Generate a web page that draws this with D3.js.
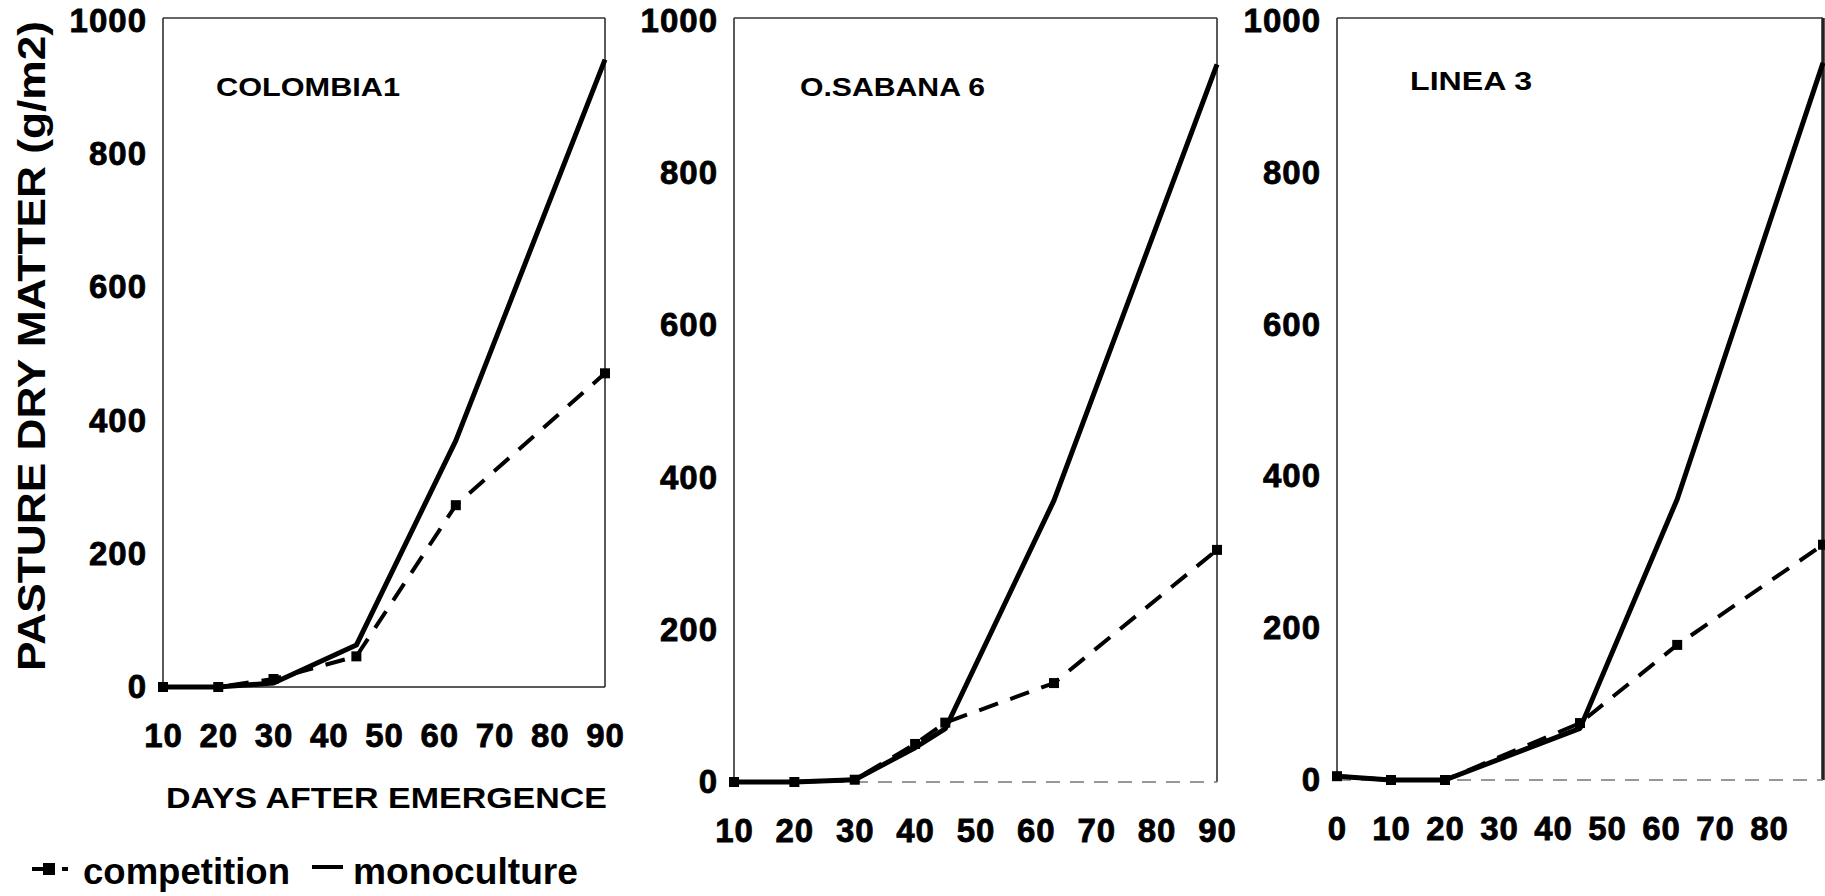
<!DOCTYPE html>
<html>
<head>
<meta charset="utf-8">
<script src="https://cdn.jsdelivr.net/npm/d3@7"></script>
<style>
  body { margin: 0; background: #fff; }
  svg { display: block; font-family: "Liberation Sans", Arial, sans-serif; }
  .tick text { font-weight: bold; font-size: 33px; fill: #000; stroke: #000; stroke-width: 0.8px; letter-spacing: 1px; }
</style>
</head>
<body>
<div id="chart"></div>
<script>
// panel titles
const panelNames = ["COLOMBIA1", "O.SABANA 6", "LINEA 3"];

// days after emergence for each panel
const days1 = [10, 20, 30, 45, 63, 90];
const days2 = [10, 20, 30, 40, 45, 63, 90];
const days3 = [0, 10, 20, 45, 63, 90];

// pasture dry matter (g/m2), monoculture
const mono1 = [0, 0, 6, 63, 370, 942];
const mono2 = [0, 0, 3, 45, 70, 370, 943];
const mono3 = [5, 0, 0, 68, 370, 945];

// pasture dry matter (g/m2), competition
const comp1 = [0, 0, 12, 46, 273, 471];
const comp2 = [0, 0, 3, 50, 78, 130, 305];
const comp3 = [5, 0, 0, 75, 178, 310];

// tick labels
const xTicks1 = [10, 20, 30, 40, 50, 60, 70, 80, 90];
const xTicks2 = [10, 20, 30, 40, 50, 60, 70, 80, 90];
const xTicks3 = [0, 10, 20, 30, 40, 50, 60, 70, 80];
const yTicks = [0, 200, 400, 600, 800, 1000];

const width = 1825, height = 896;

// where each panel sits on the page
const layout = [
  { xDomain: [10, 90], x0: 163, x1: 605, y0: 687, y1: 21, title: [216, 400, 87], base: "solid", right: 1.5 },
  { xDomain: [10, 90], x0: 734, x1: 1217, y0: 782, y1: 21, title: [800, 985, 87], base: "dotted", right: 1.5 },
  { xDomain: [0, 90], x0: 1337, x1: 1823, y0: 780, y1: 21, title: [1410, 1532, 81], base: "dotted", right: 3.5 }
];

const panels = [
  { days: days1, mono: mono1, comp: comp1, ticks: xTicks1 },
  { days: days2, mono: mono2, comp: comp2, ticks: xTicks2 },
  { days: days3, mono: mono3, comp: comp3, ticks: xTicks3 }
];

const svg = d3.select("#chart").append("svg")
  .attr("width", width)
  .attr("height", height);

panels.forEach((p, i) => {
  const L = layout[i];
  const x = d3.scaleLinear().domain(L.xDomain).range([L.x0, L.x1]);
  const y = d3.scaleLinear().domain([0, 1000]).range([L.y0, L.y1]);
  const g = svg.append("g");

  // frame
  const top = y(1000) - 3;
  g.append("line").attr("x1", L.x0).attr("x2", L.x0).attr("y1", top).attr("y2", L.y0)
    .attr("stroke", "#222").attr("stroke-width", 1.5);
  g.append("line").attr("x1", L.x1).attr("x2", L.x1).attr("y1", top).attr("y2", L.y0)
    .attr("stroke", "#222").attr("stroke-width", L.right);
  g.append("line").attr("x1", L.x0).attr("x2", L.x1).attr("y1", top).attr("y2", top)
    .attr("stroke", "#333").attr("stroke-width", 1.5);
  g.append("line").attr("x1", L.x0).attr("x2", L.x1).attr("y1", L.y0).attr("y2", L.y0)
    .attr("stroke", L.base === "solid" ? "#222" : "#777")
    .attr("stroke-width", 1.5)
    .attr("stroke-dasharray", L.base === "solid" ? null : "14,10");

  // axes
  g.append("g")
    .attr("transform", `translate(${L.x0},0)`)
    .call(d3.axisLeft(y).tickValues(yTicks).tickSize(0).tickPadding(16).tickFormat(d3.format("d")))
    .call(a => a.select(".domain").remove());

  g.append("g")
    .attr("transform", `translate(0,${L.y0})`)
    .call(d3.axisBottom(x).tickValues(p.ticks).tickSize(0).tickPadding(37).tickFormat(d3.format("d")))
    .call(a => a.select(".domain").remove());

  // panel title
  g.append("text")
    .attr("x", L.title[0]).attr("y", L.title[2])
    .attr("dy", "0.36em")
    .attr("textLength", L.title[1] - L.title[0])
    .attr("lengthAdjust", "spacingAndGlyphs")
    .style("font-weight", "bold").style("font-size", "26px")
    .text(panelNames[i]);

  const line = d3.line().x(d => x(d[0])).y(d => y(d[1]));
  const compPts = p.days.map((d, j) => [d, p.comp[j]]);
  const monoPts = p.days.map((d, j) => [d, p.mono[j]]);

  // competition, dashed with square markers
  g.append("path")
    .datum(compPts)
    .attr("d", line)
    .attr("fill", "none")
    .attr("stroke", "#000")
    .attr("stroke-width", 4)
    .attr("stroke-dasharray", "20,13");

  g.selectAll(".mk")
    .data(compPts)
    .join("rect")
    .attr("class", "mk")
    .attr("x", d => x(d[0]) - 5)
    .attr("y", d => y(d[1]) - 5)
    .attr("width", 10)
    .attr("height", 10)
    .attr("fill", "#000");

  // monoculture, solid
  g.append("path")
    .datum(monoPts)
    .attr("d", line)
    .attr("fill", "none")
    .attr("stroke", "#000")
    .attr("stroke-width", 5)
    .attr("stroke-linejoin", "round");
});

// axis titles
svg.append("text")
  .attr("transform", "translate(31,346) rotate(-90)")
  .attr("text-anchor", "middle")
  .attr("dy", "0.36em")
  .attr("textLength", 650)
  .attr("lengthAdjust", "spacingAndGlyphs")
  .style("font-weight", "bold").style("font-size", "38px")
  .text("PASTURE DRY MATTER (g/m2)");

svg.append("text")
  .attr("x", 166).attr("y", 797)
  .attr("dy", "0.36em")
  .attr("textLength", 441)
  .attr("lengthAdjust", "spacingAndGlyphs")
  .style("font-weight", "bold").style("font-size", "30px")
  .text("DAYS AFTER EMERGENCE");

// legend
const legend = svg.append("g");
legend.append("line").attr("x1", 32).attr("x2", 52).attr("y1", 869).attr("y2", 869)
  .attr("stroke", "#000").attr("stroke-width", 4);
legend.append("rect").attr("x", 43).attr("y", 863).attr("width", 12).attr("height", 12).attr("fill", "#000");
legend.append("rect").attr("x", 62).attr("y", 867).attr("width", 6).attr("height", 4).attr("fill", "#000");
legend.append("text")
  .attr("x", 83).attr("y", 884)
  .attr("textLength", 207)
  .attr("lengthAdjust", "spacingAndGlyphs")
  .style("font-weight", "bold").style("font-size", "36px")
  .text("competition");
legend.append("line").attr("x1", 312).attr("x2", 343).attr("y1", 867).attr("y2", 867)
  .attr("stroke", "#000").attr("stroke-width", 4);
legend.append("text")
  .attr("x", 353).attr("y", 884)
  .attr("textLength", 225)
  .attr("lengthAdjust", "spacingAndGlyphs")
  .style("font-weight", "bold").style("font-size", "36px")
  .text("monoculture");
</script>
</body>
</html>
